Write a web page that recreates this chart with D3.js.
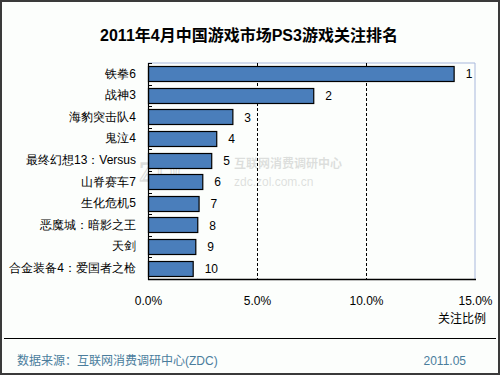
<!DOCTYPE html>
<html>
<head>
<meta charset="utf-8">
<script src="https://cdn.jsdelivr.net/npm/d3@7/dist/d3.min.js"></script>
<style>
html,body{margin:0;padding:0;background:#fff;}
svg{display:block;font-family:"Liberation Sans",Arial,"Noto Sans CJK SC",sans-serif;}
</style>
</head>
<body>
<svg id="c" width="500" height="375"></svg>
<script>
const categories = ["铁拳6","战神3","海豹突击队4","鬼泣4","最终幻想13：Versus","山脊赛车7","生化危机5","恶魔城：暗影之王","天剑","合金装备4：爱国者之枪"];
const values = [14.02, 7.58, 3.87, 3.13, 2.90, 2.49, 2.32, 2.26, 2.17, 2.05];
const ranks = ["1","2","3","4","5","6","7","8","9","10"];
const xTicks = [0, 5, 10, 15];
const title = "2011年4月中国游戏市场PS3游戏关注排名";
const axisTitle = "关注比例";
const source = "数据来源：互联网消费调研中心(ZDC)";
const dateText = "2011.05";

const svg = d3.select("#c");
svg.append("rect").attr("x",1).attr("y",1).attr("width",498).attr("height",373)
  .attr("fill","#fcfefc").attr("stroke","#3a3a3a").attr("stroke-width",2);

const L=148, R=475, T=63, B=279;
const x = d3.scaleLinear().domain([0,15]).range([L,R]);
const y = d3.scaleBand().domain(categories).range([T,B]).paddingInner(0.3).paddingOuter(0.15);

// title
svg.append("text").attr("x",249).attr("y",41).attr("text-anchor","middle")
  .attr("font-size",16).attr("font-weight","bold").attr("fill","#000").text(title);

// plot frame top/right
svg.append("line").attr("x1",L).attr("x2",R).attr("y1",T).attr("y2",T).attr("stroke","#a8b8dc");
svg.append("line").attr("x1",R).attr("x2",R).attr("y1",T).attr("y2",B).attr("stroke","#a8b8dc");

// watermark
const wm = svg.append("g").attr("fill","#000").attr("opacity",0.12);
wm.append("text").attr("x",139).attr("y",181).attr("font-size",27).attr("font-family","Liberation Serif,serif")
  .attr("fill","none").attr("stroke","#000").attr("stroke-width",1.3).text("ZDC");
wm.append("text").attr("x",234).attr("y",168).attr("font-size",12).attr("font-weight","bold").text("互联网消费调研中心");
wm.append("text").attr("x",234).attr("y",186).attr("font-size",12).text("zdc.zol.com.cn");

// gridlines
svg.append("g").selectAll("line").data(xTicks.filter(d=>d>0 && d<15)).join("line")
  .attr("x1",d=>x(d)+0.5).attr("x2",d=>x(d)+0.5).attr("y1",T).attr("y2",B)
  .attr("stroke","#000").attr("stroke-dasharray","3,2");

// bars
svg.append("g").selectAll("rect").data(values).join("rect")
  .attr("x",L+0.5).attr("y",(d,i)=>Math.round(y(categories[i]))+0.5)
  .attr("width",d=>x(d)-L).attr("height",Math.round(y.bandwidth()))
  .attr("fill","#4a7ebb").attr("stroke","#000").attr("stroke-width",1.2);

// value labels
svg.append("g").selectAll("text").data(values).join("text")
  .attr("x",d=>x(d)+12).attr("y",(d,i)=>y(categories[i])+y.bandwidth()/2+4.5)
  .attr("font-size",12).attr("fill","#000").text((d,i)=>ranks[i]);

// y axis
const yAxis = d3.axisLeft(y).tickSize(0).tickPadding(12);
const ya = svg.append("g").attr("transform",`translate(${L},0)`).call(yAxis);
ya.select(".domain").remove();
ya.selectAll("text").attr("font-size",12).attr("fill","#000").attr("font-family",null);
svg.append("line").attr("x1",L+0.5).attr("x2",L+0.5).attr("y1",T).attr("y2",B+1).attr("stroke","#000").attr("stroke-width",1.2);
// category boundary ticks
const bounds = d3.range(categories.length).map(i=>T + i*(B-T)/categories.length);
svg.append("g").selectAll("line").data(bounds).join("line")
  .attr("x1",L).attr("x2",L+4).attr("y1",d=>Math.round(d)+0.5).attr("y2",d=>Math.round(d)+0.5)
  .attr("stroke","#000");

// x axis
svg.append("line").attr("x1",L).attr("x2",R+1).attr("y1",B+0.5).attr("y2",B+0.5).attr("stroke","#000").attr("stroke-width",1.5);
const xAxis = d3.axisBottom(x).tickValues(xTicks).tickFormat(d=>d.toFixed(1)+"%").tickSize(0).tickPadding(17);
const xa = svg.append("g").attr("transform",`translate(0,${B})`).call(xAxis);
xa.select(".domain").remove();
xa.selectAll("text").attr("font-size",12).attr("fill","#000").attr("font-family",null);

svg.append("text").attr("x",486).attr("y",323).attr("text-anchor","end").attr("font-size",12).attr("fill","#000").text(axisTitle);

// footer
svg.append("line").attr("x1",4).attr("x2",496).attr("y1",338.5).attr("y2",338.5).attr("stroke","#000").attr("stroke-width",1.2);
svg.append("text").attr("x",17).attr("y",365).attr("font-size",12).attr("fill","#4a7d9c").text(source);
svg.append("text").attr("x",466).attr("y",365).attr("text-anchor","end").attr("font-size",12).attr("fill","#4a7d9c").text(dateText);
</script>
</body>
</html>
